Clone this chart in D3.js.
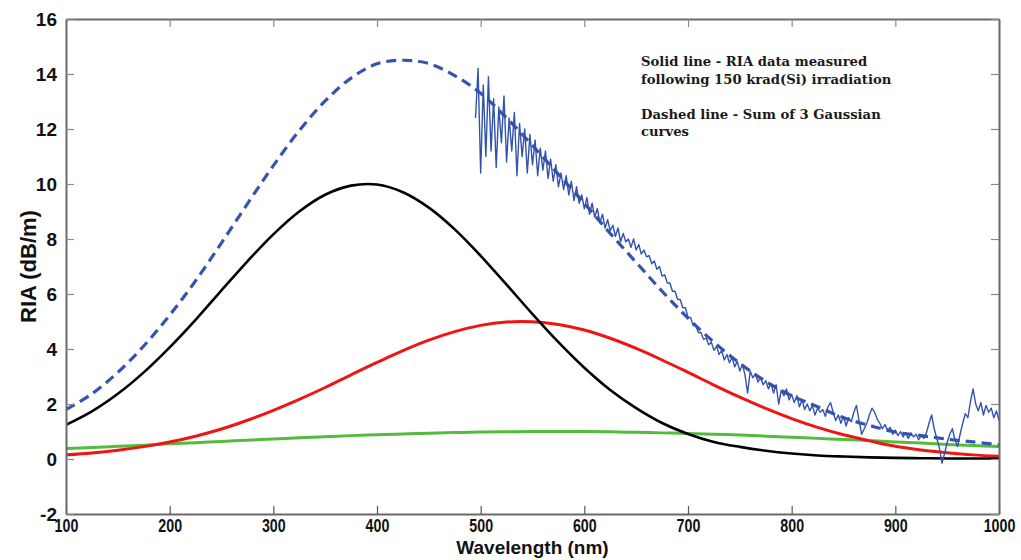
<!DOCTYPE html>
<html><head><meta charset="utf-8">
<script src="https://cdn.jsdelivr.net/npm/d3@7"></script>
<style>
html,body{margin:0;padding:0;background:#fff;}
svg{display:block;}
</style></head>
<body>
<script>
// ---- data ----
const modelWavelengths = [100,125,150,175,200,225,250,275,300,325,350,375,400,425,450,475,500,525,550,575,600,625,650,675,700,725,750,775,800,825,850,875,900,925,950,975,1000];
const gaussBlack = [1.24,1.73,2.37,3.15,4.06,5.06,6.13,7.19,8.17,9.00,9.61,9.94,9.98,9.70,9.14,8.35,7.39,6.34,5.27,4.25,3.32,2.51,1.85,1.31,0.91,0.62,0.44,0.30,0.20,0.13,0.09,0.06,0.04,0.03,0.02,0.02,0.02];
const gaussRed = [0.15,0.22,0.32,0.45,0.62,0.83,1.09,1.41,1.77,2.17,2.60,3.06,3.51,3.94,4.32,4.63,4.86,4.98,4.99,4.89,4.69,4.39,4.02,3.60,3.15,2.69,2.25,1.84,1.47,1.15,0.88,0.66,0.46,0.33,0.23,0.15,0.10];
const gaussGreen = [0.38,0.42,0.46,0.50,0.55,0.59,0.64,0.68,0.73,0.77,0.81,0.85,0.88,0.91,0.94,0.96,0.98,0.99,1.00,1.00,1.00,0.99,0.97,0.95,0.93,0.90,0.87,0.83,0.79,0.75,0.71,0.67,0.62,0.58,0.53,0.49,0.45];
const gaussSum = [1.80,2.37,3.15,4.11,5.23,6.48,7.86,9.28,10.67,11.94,13.02,13.85,14.37,14.50,14.38,13.94,13.30,12.40,11.40,10.35,9.30,8.20,7.15,6.10,5.12,4.25,3.48,2.82,2.30,1.90,1.50,1.22,0.98,0.85,0.72,0.62,0.52];

const measuredStart = 495, measuredStep = 2.5;
const measuredRIA = [
12.4,14.2,10.4,13.6,11.0,13.9,11.2,13.1,10.6,12.8,11.5,13.2,10.8,12.4,11.2,12.6,10.3,12.2,11.0,12.0,
10.4,11.8,10.7,11.6,10.3,11.3,10.5,11.2,10.2,10.9,10.1,10.7,9.9,10.4,9.8,10.3,9.6,10.1,9.4,9.9,
9.3,9.6,9.1,9.5,8.9,9.3,8.8,9.1,8.6,8.9,8.4,8.7,8.3,8.5,8.1,8.4,7.9,8.2,7.9,8.0,
7.7,8.0,7.6,7.8,7.45,7.6,7.35,7.4,7.1,7.2,6.9,7.0,6.65,6.7,6.4,6.4,6.1,6.1,5.8,5.8,
5.5,5.5,5.15,5.15,4.85,4.85,4.6,4.6,4.35,4.4,4.15,4.25,3.95,4.1,3.8,3.95,3.6,3.8,3.5,3.7,
3.35,3.55,3.2,3.45,3.05,2.4,3.2,2.95,3.1,2.8,2.95,2.7,2.85,2.55,2.75,2.4,2.7,2.0,2.5,2.3,
2.55,2.15,2.35,2.05,2.3,1.9,2.15,1.8,2.0,1.75,1.95,1.6,1.85,1.7,1.8,1.55,1.9,2.05,1.7,1.4,
1.6,1.3,1.55,1.2,1.5,1.35,1.7,1.95,1.4,0.9,1.1,1.3,1.6,1.85,1.7,1.45,1.3,1.1,1.25,1.05,
1.15,0.9,1.05,0.85,1.0,0.8,0.95,0.75,0.95,0.8,0.9,0.7,0.85,0.75,0.95,1.3,1.6,1.1,0.75,0.4,
-0.15,0.2,0.6,0.9,1.1,0.7,0.45,0.9,1.3,1.65,1.5,2.1,2.55,2.0,1.75,2.05,1.6,1.95,1.7,1.85,
1.5,1.75,1.4];

const xTicks = [100,200,300,400,500,600,700,800,900,1000];
const yTicks = [-2,0,2,4,6,8,10,12,14,16];
const annotation = ["Solid line - RIA data measured","following 150 krad(Si) irradiation","","Dashed line - Sum of 3 Gaussian","curves"];
const xTitle = "Wavelength (nm)";
const yTitle = "RIA (dB/m)";

// ---- chart ----
const W = 1021, H = 560;
const m = {left:66, right:22, top:19, bottom:46};
const svg = d3.select("body").append("svg").attr("width",W).attr("height",H);
svg.append("rect").attr("width",W).attr("height",H).attr("fill","#fff");

const x = d3.scaleLinear().domain([100,1000]).range([m.left, W-m.right]);
const y = d3.scaleLinear().domain([-2,16]).range([H-m.bottom, m.top]);

svg.append("defs").append("clipPath").attr("id","clip")
  .append("rect").attr("x",m.left).attr("y",m.top).attr("width",x(1000)-x(100)).attr("height",y(-2)-y(16));

const plot = svg.append("g").attr("clip-path","url(#clip)");

const modelLine = vals => d3.line()
  .x((d,i)=>x(modelWavelengths[i])).y(d=>y(d)).curve(d3.curveCatmullRom)(vals);

plot.append("path").attr("d",modelLine(gaussGreen)).attr("fill","none")
  .attr("stroke","#55bb3c").attr("stroke-width",3);
plot.append("path").attr("d",modelLine(gaussRed)).attr("fill","none")
  .attr("stroke","#ee1515").attr("stroke-width",3);
plot.append("path").attr("d",modelLine(gaussBlack)).attr("fill","none")
  .attr("stroke","#000").attr("stroke-width",2.6);
plot.append("path").attr("d",modelLine(gaussSum)).attr("fill","none")
  .attr("stroke","#3454b0").attr("stroke-width",3.2).attr("stroke-dasharray","10,6");

const measLine = d3.line().x((d,i)=>x(measuredStart+i*measuredStep)).y(d=>y(d));
plot.append("path").attr("d",measLine(measuredRIA)).attr("fill","none")
  .attr("stroke","#3252ad").attr("stroke-width",1.4).attr("stroke-linejoin","round");

// axes (MATLAB style, ticks inward)
const tickLen = 8;
const fmt = d => String(d);
const axBottom = svg.append("g").attr("transform",`translate(0,${y(-2)})`)
  .call(d3.axisBottom(x).tickValues(xTicks).tickFormat(fmt).tickSizeInner(-tickLen).tickSizeOuter(0).tickPadding(5));
const axTop = svg.append("g").attr("transform",`translate(0,${y(16)})`)
  .call(d3.axisTop(x).tickValues(xTicks).tickSizeInner(-tickLen).tickSizeOuter(0).tickFormat(""));
const axLeft = svg.append("g").attr("transform",`translate(${x(100)},0)`)
  .call(d3.axisLeft(y).tickValues(yTicks).tickFormat(fmt).tickSizeInner(-tickLen).tickSizeOuter(0).tickPadding(9));
const axRight = svg.append("g").attr("transform",`translate(${x(1000)},0)`)
  .call(d3.axisRight(y).tickValues(yTicks).tickSizeInner(-tickLen).tickSizeOuter(0).tickFormat(""));

[axBottom,axTop,axLeft,axRight].forEach(a=>{
  a.select(".domain").attr("stroke","#6a6a6a").attr("stroke-width",2);
  a.selectAll(".tick line").attr("stroke","#8a8a8a").attr("stroke-width",1.2);
  a.selectAll("text").attr("font-family","Liberation Sans, Arial, sans-serif")
    .attr("font-weight","bold").attr("font-size",19).attr("fill","#111");
});
axBottom.selectAll(".tick line").attr("stroke","#555");
axBottom.selectAll("text").attr("transform","scale(0.75,1)").attr("font-size",19);

svg.append("text").attr("x",(x(100)+x(1000))/2).attr("y",554)
  .attr("text-anchor","middle").attr("font-family","Liberation Sans, Arial, sans-serif")
  .attr("font-weight","bold").attr("font-size",19).attr("fill","#111").text(xTitle);
svg.append("text").attr("transform",`translate(36,${(y(-2)+y(16))/2}) rotate(-90)`)
  .attr("text-anchor","middle").attr("font-family","Liberation Sans, Arial, sans-serif")
  .attr("font-weight","bold").attr("font-size",22).attr("fill","#111").text(yTitle);

const ann = svg.append("g").attr("font-family","DejaVu Serif, serif").attr("font-weight","bold")
  .attr("font-size",13.2).attr("fill","#1a1a1a");
annotation.forEach((t,i)=>{
  if(t) ann.append("text").attr("x",641).attr("y",66+i*17.5).text(t);
});
</script>
</body></html>
